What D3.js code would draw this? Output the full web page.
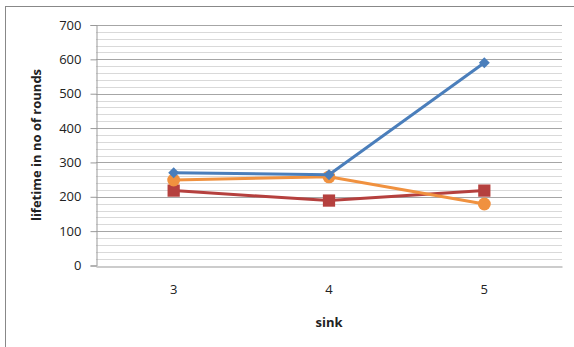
<!DOCTYPE html>
<html><head><meta charset="utf-8">
<script src="https://cdn.jsdelivr.net/npm/d3@7"></script>
<style>body{margin:0;background:#fff}svg{display:block}text{font-family:"Open Sans","Liberation Sans",sans-serif}</style>
</head><body>
<script>
const categories = ["3","4","5"];
const seriesBlue = [270, 264, 590];
const seriesOrange = [249, 258, 179];
const seriesRed = [218, 189, 218];
const yTicks = [0,100,200,300,400,500,600,700];

const W=574,H=347;
const svg=d3.select("body").append("svg").attr("width",W).attr("height",H);
svg.append("rect").attr("x",5.5).attr("y",6.5).attr("width",W+10).attr("height",H+10).attr("fill","#fff").attr("stroke","#888");

const m={l:96,r:562,t:25,b:265.5};
const x=d3.scaleBand().domain(categories).range([m.l,m.r]);
const y=d3.scaleLinear().domain([0,700]).range([m.b,m.t]);

const minor=d3.range(0,701,20).filter(v=>v%100!==0);
svg.append("g").selectAll("line").data(minor).join("line")
  .attr("x1",m.l).attr("x2",m.r).attr("y1",d=>Math.round(y(d))+0.5).attr("y2",d=>Math.round(y(d))+0.5)
  .attr("stroke","#d9d9d9").attr("stroke-width",1);
svg.append("g").selectAll("line").data(yTicks.filter(v=>v>0)).join("line")
  .attr("x1",m.l).attr("x2",m.r).attr("y1",d=>Math.round(y(d))+0.5).attr("y2",d=>Math.round(y(d))+0.5)
  .attr("stroke","#a6a6a6").attr("stroke-width",1);

const ya=svg.append("g").attr("transform",`translate(${m.l+0.5},0)`).call(d3.axisLeft(y).tickValues(yTicks).tickSize(6).tickPadding(9));
ya.select(".domain").attr("stroke","#999");
ya.selectAll(".tick line").attr("stroke","#999");
ya.selectAll(".tick text").attr("font-size",13).attr("fill","#222");
const xa=svg.append("g").attr("transform",`translate(0,${Math.round(m.b)+0.5})`).call(d3.axisBottom(x).tickSize(0).tickPadding(18));
xa.select(".domain").attr("stroke","#999");
xa.selectAll(".tick text").attr("font-size",13).attr("fill","#222");

svg.append("text").attr("x",329).attr("y",327).attr("text-anchor","middle").attr("font-size",13).attr("font-weight","bold").attr("fill","#222").text("sink");
svg.append("text").attr("transform","translate(41,145) rotate(-90)").attr("text-anchor","middle").attr("font-size",13).attr("font-weight","bold").attr("fill","#222").text("lifetime in no of rounds");

const cx=d=>x(d)+x.bandwidth()/2;
const line=d3.line().x((d,i)=>cx(categories[i])).y(d=>y(d));
const series=[
  {v:seriesBlue,c:"#4a7ebb",sym:d3.symbolSquare,size:60,rot:45},
  {v:seriesOrange,c:"#f0913f",sym:d3.symbolCircle,size:130,rot:0},
  {v:seriesRed,c:"#b5403e",sym:d3.symbolSquare,size:150,rot:0}
];
[series[2],series[1],series[0]].forEach(s=>{
  svg.append("path").datum(s.v).attr("d",line).attr("fill","none").attr("stroke",s.c).attr("stroke-width",3);
  svg.append("g").selectAll("path").data(s.v).join("path")
    .attr("transform",(d,i)=>`translate(${cx(categories[i])},${y(d)}) rotate(${s.rot})`)
    .attr("d",d3.symbol().type(s.sym).size(s.size)).attr("fill",s.c);
});
</script>
</body></html>
